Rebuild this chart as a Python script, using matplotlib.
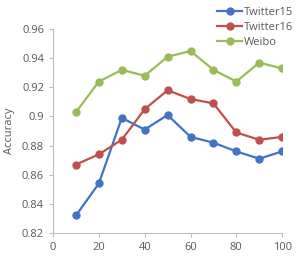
import matplotlib
matplotlib.use("Agg")
import matplotlib.pyplot as plt

x = [10, 20, 30, 40, 50, 60, 70, 80, 90, 100]
twitter15 = [0.832, 0.854, 0.899, 0.891, 0.901, 0.886, 0.882, 0.876, 0.871, 0.876]
twitter16 = [0.867, 0.874, 0.884, 0.905, 0.918, 0.912, 0.909, 0.889, 0.884, 0.886]
weibo = [0.903, 0.924, 0.932, 0.928, 0.941, 0.945, 0.932, 0.924, 0.937, 0.933]
yticks = [0.82, 0.84, 0.86, 0.88, 0.9, 0.92, 0.94, 0.96]
ylabels = ["0.82", "0.84", "0.86", "0.88", "0.9", "0.92", "0.94", "0.96"]

plt.rcParams['font.family'] = ['Open Sans', 'DejaVu Sans']
grey = '#595959'

fig = plt.figure(figsize=(3.05, 2.6), dpi=100)
ax = fig.add_axes([0.174, 0.104, 0.751, 0.784])

ax.plot(x, twitter15, color='#4472C4', marker='o', markersize=5, lw=1.6, label='Twitter15')
ax.plot(x, twitter16, color='#C0504D', marker='o', markersize=5, lw=1.6, label='Twitter16')
ax.plot(x, weibo, color='#9BBB59', marker='o', markersize=5, lw=1.6, label='Weibo')

ax.set_xlim(0, 100)
ax.set_ylim(0.82, 0.96)
ax.set_xticks(range(0, 101, 20))
ax.set_yticks(yticks)
ax.set_yticklabels(ylabels)
ax.set_ylabel('Accuracy', color=grey, fontsize=8, labelpad=5)

for s in ['top', 'right']:
    ax.spines[s].set_visible(False)
for s in ['left', 'bottom']:
    ax.spines[s].set_color('#bfbfbf')
    ax.spines[s].set_linewidth(0.8)
ax.tick_params(colors='#bfbfbf', labelcolor=grey, labelsize=8, length=3, width=0.8)

fig.legend(loc='upper right', bbox_to_anchor=(0.985, 1.0), frameon=False,
           fontsize=8, labelcolor=grey, handlelength=2.2, handletextpad=0.2,
           labelspacing=0.35, borderaxespad=0.25)

fig.savefig('out.png', dpi=100)
